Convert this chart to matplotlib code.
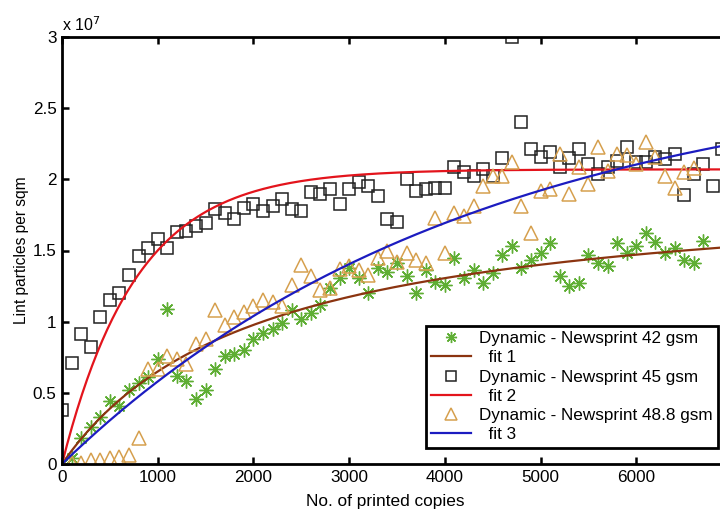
import numpy as np
import matplotlib
matplotlib.use("Agg")
import matplotlib.pyplot as plt
from matplotlib.ticker import FuncFormatter, MultipleLocator, FixedLocator

plt.rcParams['font.family'] = ['Liberation Sans', 'DejaVu Sans']

# ---- data (x in copies, y in units of 1e7 particles per sqm) ----
copies = list(range(0, 7000, 100))

n42 = [0.00, 0.04, 0.18, 0.26, 0.33, 0.44, 0.41, 0.52, 0.57, 0.61,
       0.74, 1.09, 0.62, 0.58, 0.46, 0.52, 0.67, 0.76, 0.77, 0.80,
       0.88, 0.92, 0.95, 0.99, 1.08, 1.02, 1.06, 1.12, 1.24, 1.31,
       1.38, 1.31, 1.20, 1.38, 1.35, 1.41, 1.32, 1.20, 1.36, 1.28,
       1.26, 1.45, 1.31, 1.36, 1.27, 1.34, 1.47, 1.53, 1.38, 1.43,
       1.48, 1.55, 1.32, 1.25, 1.27, 1.47, 1.41, 1.39, 1.55, 1.48,
       1.53, 1.62, 1.56, 1.48, 1.52, 1.43, 1.41, 1.57]

n45 = [0.38, 0.71, 0.91, 0.82, 1.03, 1.15, 1.20, 1.33, 1.46, 1.52,
       1.58, 1.52, 1.63, 1.64, 1.67, 1.69, 1.79, 1.76, 1.72, 1.80,
       1.83, 1.78, 1.81, 1.86, 1.79, 1.78, 1.91, 1.90, 1.93, 1.83,
       1.93, 1.98, 1.95, 1.88, 1.72, 1.70, 2.00, 1.92, 1.93, 1.94,
       1.94, 2.09, 2.05, 2.02, 2.07, 2.02, 2.15, 3.00, 2.40, 2.21,
       2.16, 2.19, 2.09, 2.15, 2.21, 2.11, 2.04, 2.09, 2.13, 2.23,
       2.12, 2.12, 2.16, 2.14, 2.18, 1.89, 2.04, 2.11, 1.95, 2.21]

n488 = [0.00, 0.01, 0.01, 0.03, 0.03, 0.04, 0.05, 0.06, 0.18, 0.67,
        0.67, 0.76, 0.74, 0.70, 0.84, 0.88, 1.08, 0.98, 1.03, 1.07,
        1.11, 1.15, 1.14, 1.11, 1.26, 1.40, 1.32, 1.22, 1.24, 1.37,
        1.39, 1.36, 1.33, 1.45, 1.50, 1.42, 1.48, 1.43, 1.41, 1.73,
        1.48, 1.76, 1.74, 1.81, 1.95, 2.02, 2.02, 2.12, 1.81, 1.62,
        1.92, 1.93, 2.18, 1.90, 2.09, 1.97, 2.23, 2.06, 2.18, 2.17,
        2.11, 2.26, 2.16, 2.02, 1.94, 2.05, 2.08]

# fitted model parameters (y in 1e7 units)
fit1_params = [1.968, 2028.0]     # a*x/(b+x)
fit2_params = [2.07, 0.00129]     # a*(1-exp(-b*x))
fit3_params = [2.80, 0.000232]    # a*(1-exp(-b*x))

x_ticks = [0, 1000, 2000, 3000, 4000, 5000, 6000]

labels = ["Dynamic - Newsprint 42 gsm", "  fit 1",
          "Dynamic - Newsprint 45 gsm", "  fit 2",
          "Dynamic - Newsprint 48.8 gsm", "  fit 3"]

SCALE = 1e7

fig = plt.figure(figsize=(7.2, 5.12), dpi=100)
ax = fig.add_axes([62/720, 48/512, (732-62)/720, (464-37)/512])

xs = np.linspace(0, 7000, 400)
f1 = fit1_params[0] * xs / (fit1_params[1] + xs)
f2 = fit2_params[0] * (1 - np.exp(-fit2_params[1] * xs))
f3 = fit3_params[0] * (1 - np.exp(-fit3_params[1] * xs))

c_green = '#5fae34'
c_tan = '#d6a04e'
c_brown = '#8b3410'
c_red = '#e3141c'
c_blue = '#1c1cc0'

h1, = ax.plot(copies[:len(n42)], np.array(n42) * SCALE, linestyle='none',
              marker=(8, 2, 0), markersize=10, markeredgewidth=1.0, color=c_green)
h2, = ax.plot(xs, f1 * SCALE, color=c_brown, lw=1.6)
h3, = ax.plot(copies[:len(n45)], np.array(n45) * SCALE, linestyle='none',
              marker='s', markersize=9, markerfacecolor='none',
              markeredgecolor='#222222', markeredgewidth=1.1)
h4, = ax.plot(xs, f2 * SCALE, color=c_red, lw=1.6)
h5, = ax.plot(copies[:len(n488)], np.array(n488) * SCALE, linestyle='none',
              marker='^', markersize=10, markerfacecolor='none',
              markeredgecolor=c_tan, markeredgewidth=1.1)
h6, = ax.plot(xs, f3 * SCALE, color=c_blue, lw=1.6)

ax.set_xlim(0, 7000)
ax.set_ylim(0, 3e7)
ax.xaxis.set_major_locator(FixedLocator(x_ticks))
ax.yaxis.set_major_locator(MultipleLocator(0.5e7))
ax.yaxis.set_major_formatter(FuncFormatter(lambda v, p: '%g' % (v / SCALE)))
ax.tick_params(direction='in', top=True, right=True, length=5, width=1.8,
               labelsize=12.3, pad=4)
for s in ax.spines.values():
    s.set_linewidth(2.0)

ax.text(0.0, 1.008, 'x 10$^{7}$', transform=ax.transAxes, fontsize=11.5,
        ha='left', va='bottom')

ax.set_xlabel('No. of printed copies', fontsize=12.4)
ax.xaxis.set_label_coords((385 - 62) / 670, -0.071)
ax.set_ylabel('Lint particles per sqm', fontsize=11.2, labelpad=3)

leg = ax.legend([h1, h2, h3, h4, h5, h6], labels, loc='upper right',
                bbox_to_anchor=(718/720, 1 - 326/512),
                bbox_transform=fig.transFigure, fontsize=12.3,
                frameon=True, fancybox=False, framealpha=1,
                edgecolor='black', handlelength=2.3, borderpad=0.3,
                labelspacing=0.25, handletextpad=0.5, markerscale=0.8,
                borderaxespad=0)
leg.get_frame().set_linewidth(2.0)

fig.savefig('out.png', dpi=100)
